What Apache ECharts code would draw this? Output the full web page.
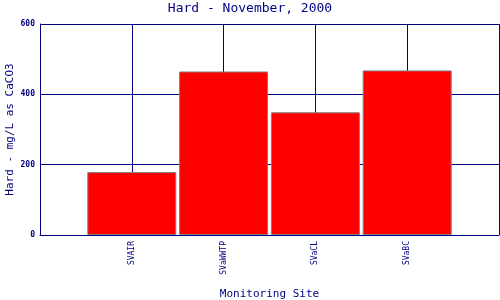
<!DOCTYPE html>
<html>
<head>
<meta charset="utf-8">
<script src="https://cdn.jsdelivr.net/npm/echarts@6/dist/echarts.min.js"></script>
<style>
  html, body { margin: 0; padding: 0; background: #fff; }
  #chart { width: 500px; height: 300px; }
</style>
</head>
<body>
<div id="chart"></div>
<script>
const sites = ["SVAIR", "SVaWWTP", "SVaCL", "SVaBC"];
const hardness = [179, 465, 349, 468];
const yTicks = [0, 200, 400, 600];

const navy = "#000080";
const mono = "DejaVu Sans Mono";

let chartDom = document.getElementById("chart");
let myChart = echarts.init(chartDom);

// bars sit at x = 1..4 on a 0..5 value axis, matching the original spacing
let points = sites.map((s, i) => [i + 1, hardness[i]]);

let option = {
  animation: false,
  title: {
    text: "Hard - November, 2000",
    left: "center",
    top: 2,
    padding: 0,
    textStyle: { color: navy, fontFamily: mono, fontWeight: "normal", fontSize: 13 },
  },
  grid: { left: 40, right: 1, top: 24, bottom: 65, outerBoundsMode: "none", containLabel: false },
  xAxis: {
    type: "value",
    min: 0,
    max: 5,
    interval: 1,
    name: "Monitoring Site",
    nameLocation: "middle",
    nameGap: 54,
    nameTextStyle: { color: navy, fontFamily: mono, fontSize: 11 },
    axisLine: { lineStyle: { color: navy, width: 1 } },
    axisTick: { show: false },
    splitLine: { show: true, lineStyle: { color: navy, width: 1 } },
    axisLabel: {
      rotate: 90,
      color: navy,
      fontFamily: mono,
      fontSize: 8,
      margin: 6,
      formatter: (v) => sites[v - 1] || "",
    },
  },
  yAxis: {
    type: "value",
    min: yTicks[0],
    max: yTicks[yTicks.length - 1],
    interval: 200,
    name: "Hard - mg/L as CaCO3",
    nameLocation: "middle",
    nameGap: 24,
    nameMoveOverlap: false,
    nameTextStyle: { color: navy, fontFamily: mono, fontSize: 11 },
    axisLine: { show: true, lineStyle: { color: navy, width: 1 } },
    axisTick: { show: false },
    splitLine: { show: true, lineStyle: { color: navy, width: 1 } },
    axisLabel: {
      color: navy,
      fontFamily: mono,
      fontSize: 8,
      fontWeight: "bold",
      margin: 5,
    },
  },
  series: [
    {
      type: "bar",
      data: points,
      barWidth: 89,
      itemStyle: { color: "#ff0000", borderColor: "#808080", borderWidth: 1 },
      z: 3,
    },
  ],
};
myChart.setOption(option);
</script>
</body>
</html>
